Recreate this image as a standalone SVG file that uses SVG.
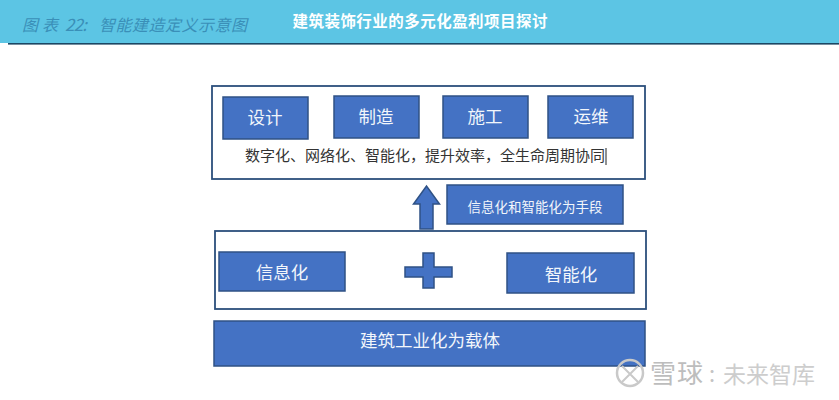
<svg xmlns="http://www.w3.org/2000/svg" width="839" height="400" viewBox="0 0 839 400">
<style>
text{font-family:"Noto Sans CJK SC","Noto Sans",sans-serif;text-anchor:middle}
.b{fill:#4472c4;stroke:#2f5285;stroke-width:1.5}
.f{fill:#fff;stroke:#2c4f7c;stroke-width:1.8}
.w{fill:#f2f6fb;font-size:17.500px}
.c{text-anchor:start;font-style:italic;fill:#3a8fb8}
</style>
<rect width="839" height="43" fill="#5cc5e4"/>
<rect x="8" y="43" width="831" height="1.6" fill="#1c4763"/>
<g id="caption"><text class="c" x="22" y="31" font-size="16" textLength="36">图表</text><text class="c" x="65" y="31" font-size="17" textLength="22">22:</text><text class="c" x="99" y="31" font-size="16" textLength="148">智能建造定义示意图</text></g>
<g id="title"><text x="420" y="27" font-size="15.500" font-weight="700" fill="#fff" textLength="255">建筑装饰行业的多元化盈利项目探讨</text></g>
<g id="top-frame"><rect class="f" x="212" y="86" width="433" height="93"/>
<text x="425" y="161" font-size="15" fill="#333" textLength="360">数字化、网络化、智能化，提升效率，全生命周期协同</text>
<rect x="605.500" y="148" width="1" height="17" fill="#222"/></g>
<g id="design"><rect class="b" x="223" y="97" width="85" height="42"/><text class="w" x="265" y="124">设计</text></g>
<g id="make"><rect class="b" x="334" y="96" width="85" height="42"/><text class="w" x="376" y="123">制造</text></g>
<g id="build"><rect class="b" x="443" y="96" width="85" height="42"/><text class="w" x="485" y="123">施工</text></g>
<g id="ops"><rect class="b" x="548" y="96" width="85" height="42"/><text class="w" x="591" y="123">运维</text></g>
<g id="means"><rect class="b" x="447" y="185" width="176" height="39"/><text x="535" y="212" font-size="13.500" fill="#f2f6fb">信息化和智能化为手段</text></g>
<g id="connectors"><path class="b" d="M420 229V204H413.500L426.500 186L439.500 204H433V229Z"/></g>
<g id="mid-frame"><rect class="f" x="215" y="231" width="431" height="78"/></g>
<g id="info"><rect class="b" x="219" y="252" width="126" height="39"/><text class="w" x="282" y="279">信息化</text></g>
<g id="plus"><path class="b" d="M423 253H434V267H452V277H434V288H423V277H405V267H423Z"/></g>
<g id="smart"><rect class="b" x="507" y="253" width="127" height="40"/><text class="w" x="571" y="281">智能化</text></g>
<g id="base"><rect class="b" x="214" y="321" width="431" height="45"/><text class="w" x="430" y="347">建筑工业化为载体</text></g>
<g id="watermark" fill="none" stroke="#c9c9c9" stroke-width="2.500"><circle cx="630" cy="373" r="13"/><path d="M622 366L630 374L622 382M638 366L630 374L638 382" stroke-width="2"/></g>
<text x="650" y="383" style="text-anchor:start" font-size="26" fill="#bdbdbd" textLength="53">雪球</text>
<text x="712" y="382" font-size="22" fill="#c4c4c4">:</text>
<text x="723" y="383" style="text-anchor:start" font-size="23" fill="#cdcdcd" textLength="92">未来智库</text>
</svg>
